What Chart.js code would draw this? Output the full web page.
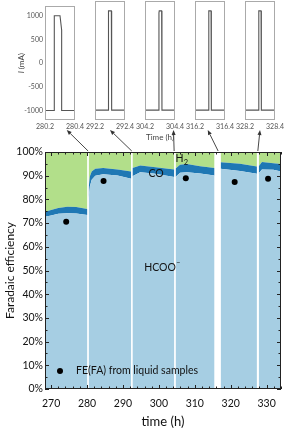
<!DOCTYPE html>
<html><head><meta charset="utf-8">
<script src="https://cdn.jsdelivr.net/npm/chart.js@4.4.1/dist/chart.umd.min.js"></script>
<style>
html,body{margin:0;padding:0;background:#fff;width:286px;height:430px;overflow:hidden}
canvas{position:absolute;top:0}
</style></head><body>
<canvas id="main" width="286" height="430" style="left:0"></canvas>
<canvas id="p0"></canvas><canvas id="p1"></canvas><canvas id="p2"></canvas><canvas id="p3"></canvas><canvas id="p4"></canvas>
<script>
// ---------- main chart data (time in h, Faradaic efficiency in %) ----------
const time   = [268.3,270,272,274.5,277,280.1, 280.3, 280.45,280.8,281.3,282.3,284.5,288.5,292.3, 292.45, 292.65,294.8,298.5,304.3, 304.45, 304.65,305.9,307.8,311.5,315.5, 316.3, 317.2,322.6,327.3, 327.55, 327.8,328.7,331.9,334];
const feHCOO = [72.7,73.2,73.9,74.2,74.1,73.4, null, 80.5,85.5,88.3,90.0,90.6,90.1,88.7, null, 89.8,91.5,90.9,89.4, null, 89.4,91.2,91.5,90.9,90.1, null, 92.9,92.0,90.8, null, 91.0,92.6,92.5,91.8];
const feCO   = [2.1,2.3,2.5,2.7,2.7,2.6, null, 4.5,4.3,3.5,2.9,2.6,2.5,3.1, null, 3.5,2.8,2.8,3.2, null, 3.6,3.4,3.4,3.1,3.1, null, 2.8,3.0,3.1, null, 3.0,3.2,2.8,3.1];
const feH2   = [25.2,24.5,23.6,23.1,23.2,24.0, null, 15.0,10.2,8.2,7.1,6.8,7.4,8.2, null, 6.7,5.7,6.3,7.4, null, 7.0,5.4,5.1,6.0,6.8, null, 4.3,5.0,6.1, null, 6.0,4.2,4.7,5.1];
const sampleTime = [274.2,284.6,307.5,321.1,330.4];
const sampleFE   = [70.6,87.8,88.9,87.3,88.7];
const xTickLabels = [270,280,290,300,310,320,330];
const yTickLabels = [0,10,20,30,40,50,60,70,80,90,100];

// ---------- inset data (time in h, current in mA) ----------
const insetWindows = [[280.2,280.4],[292.2,292.4],[304.2,304.4],[316.2,316.4],[328.2,328.4]];
const pulse1Time = [280.2,280.262,280.262,280.300,280.311,280.311,280.4];
const pulse1Cur  = [-1000,-1000,1000,1000,700,-1000,-1000];
const pulse2Time = [292.2,292.289,292.289,292.291,292.309,292.311,292.311,292.4];
const pulse2Cur  = [-1000,-1000,960,1000,1000,960,-1000,-1000];
const pulse3Time = [304.2,304.293,304.293,304.295,304.311,304.313,304.313,304.4];
const pulse3Cur  = [-1000,-1000,960,1000,1000,960,-1000,-1000];
const pulse4Time = [316.2,316.291,316.291,316.293,316.307,316.309,316.309,316.4];
const pulse4Cur  = [-1000,-1000,960,1000,1000,960,-1000,-1000];
const pulse5Time = [328.2,328.291,328.291,328.293,328.307,328.309,328.309,328.4];
const pulse5Cur  = [-1000,-1000,960,1000,1000,960,-1000,-1000];
const currentTicks = [-1000,-500,0,500,1000];
// arrows: main-chart time -> inset time
const arrowFrom = [280.3,292.45,304.25,316.5,327.55];
const arrowTo   = [280.345,292.3,304.39,316.285,328.3];

const FONT = 'Lato, "Liberation Sans", sans-serif';
Chart.defaults.font.family = FONT;
Chart.defaults.color = '#111';
Chart.defaults.animation = false;
Chart.defaults.events = [];
Chart.defaults.plugins.legend.display = false;
Chart.defaults.plugins.tooltip.enabled = false;

// ---------- insets ----------
const insetFrame = {
  id:'insetFrame',
  afterDraw(chart){
    const {ctx, chartArea:a} = chart;
    ctx.save();
    ctx.strokeStyle = '#aaa'; ctx.lineWidth = 1;
    ctx.strokeRect(Math.round(a.left)+0.5, Math.round(a.top)+0.5, Math.round(a.right-a.left)-1, Math.round(a.bottom-a.top)-1);
    if (chart.$first) {
      ctx.fillStyle = '#444';
      ctx.translate(21.5, (a.top+a.bottom)/2);
      ctx.rotate(-Math.PI/2);
      ctx.textBaseline = 'middle';
      ctx.font = `italic 8px ${FONT}`;
      const w1 = ctx.measureText('I ').width;
      ctx.font = `8px ${FONT}`;
      const w2 = ctx.measureText('(mA)').width;
      const sx = -(w1+w2)/2;
      ctx.font = `italic 8px ${FONT}`; ctx.fillText('I ', sx, 0);
      ctx.font = `8px ${FONT}`; ctx.fillText('(mA)', sx+w1, 0);
    }
    ctx.restore();
  }
};
const pulses = [[pulse1Time,pulse1Cur],[pulse2Time,pulse2Cur],[pulse3Time,pulse3Cur],[pulse4Time,pulse4Cur],[pulse5Time,pulse5Cur]];
const insetCharts = pulses.map((p,i)=>{
  const cv = document.getElementById('p'+i);
  const first = i===0;
  const left = first ? 0 : 33 + 50*i;
  cv.style.left = left+'px';
  cv.width = first ? 87 : 54; cv.height = 145;
  const [w0,w1] = insetWindows[i];
  const ch = new Chart(cv, {
    type:'line',
    data:{datasets:[{data:p[0].map((t,k)=>({x:t,y:p[1][k]})), borderColor:'#555', borderWidth:1.1, pointRadius:0, fill:false, tension:0}]},
    options:{responsive:false,
      layout:{padding:{top:1,left:first?0:12,right:12,bottom:0}},
      scales:{
        x:{type:'linear',min:w0,max:w1,
           afterBuildTicks:s=>{s.ticks=[{value:w0},{value:w1}];},
           afterFit:s=>{s.height=25;},
           grid:{display:false,drawTicks:false}, border:{display:false},
           ticks:{font:{size:7},color:'#555',padding:3,maxRotation:0,autoSkip:false,callback:v=>Number(v).toFixed(1)},
           title:{display:i===2,text:'Time (h)',font:{size:8},color:'#444',padding:{top:0,bottom:3}}},
        y:{display:first,min:-1200,max:1200,
           afterBuildTicks:s=>{s.ticks=currentTicks.map(v=>({value:v}));},
           afterFit:s=>{ if(first) s.width=45; },
           grid:{display:false,drawTicks:false}, border:{display:false},
           ticks:{font:{size:7},color:'#555',padding:2,autoSkip:false,callback:v=>String(v)},
           title:{display:false}}
      }},
    plugins:[insetFrame]
  });
  ch.$first = first; ch.$left = left;
  ch.draw();
  return ch;
});

// ---------- main chart ----------
const pts = arr => time.map((t,k)=>({x:t, y:arr[k]}));
const cumHCOO = feHCOO;
const cumCO = feHCOO.map((v,k)=> v===null?null: v+feCO[k]);
const cumH2 = feHCOO.map((v,k)=> v===null?null: v+feCO[k]+feH2[k]);

const mainDeco = {
  id:'mainDeco',
  afterDatasetsDraw(chart){
    const {ctx, chartArea:a, scales:{x,y}} = chart;
    ctx.save();
    ctx.fillStyle = '#111';
    ctx.textBaseline = 'middle'; ctx.textAlign = 'left';
    // H2 label
    let px = x.getPixelForValue(304.6), py = y.getPixelForValue(97.3);
    ctx.font = `10.5px ${FONT}`; ctx.fillText('H', px, py);
    let w = ctx.measureText('H').width;
    ctx.font = `7.5px ${FONT}`; ctx.fillText('2', px+w+0.3, py+4);
    // CO label
    ctx.font = `10.5px ${FONT}`;
    ctx.fillText('CO', x.getPixelForValue(297.1), y.getPixelForValue(90.8));
    // HCOO- label
    px = x.getPixelForValue(295.9); py = y.getPixelForValue(51.4);
    ctx.fillText('HCOO', px, py);
    w = ctx.measureText('HCOO').width;
    ctx.font = `7px ${FONT}`; ctx.fillText('\u2212', px+w+0.3, py-4);
    // legend
    const ds = chart.data.datasets[3];
    ctx.beginPath(); ctx.arc(a.left+15, a.bottom-18, 3, 0, Math.PI*2); ctx.fillStyle = ds.pointBackgroundColor; ctx.fill();
    ctx.fillStyle = '#111'; ctx.font = `10.5px ${FONT}`;
    ctx.fillText(ds.label, a.left+31, a.bottom-18);
    // frame
    ctx.strokeStyle = '#222'; ctx.lineWidth = 1;
    ctx.strokeRect(a.left+0.5, a.top+0.5, a.right-a.left-1, a.bottom-a.top-1);
    ctx.beginPath();
    for (let v=270; v<=334; v+=2){
      const p = Math.round(x.getPixelForValue(v))+0.5, len = v%10===0?4:2.5;
      ctx.moveTo(p,a.bottom); ctx.lineTo(p,a.bottom-len);
      ctx.moveTo(p,a.top); ctx.lineTo(p,a.top+len);
    }
    for (let v=0; v<=100; v+=5){
      const p = Math.round(y.getPixelForValue(v))+0.5, len = v%10===0?4:2.5;
      ctx.moveTo(a.left,p); ctx.lineTo(a.left+len,p);
      ctx.moveTo(a.right,p); ctx.lineTo(a.right-len,p);
    }
    ctx.stroke();
    // arrows to insets
    ctx.strokeStyle = '#333'; ctx.fillStyle = '#333'; ctx.lineWidth = 0.9;
    arrowFrom.forEach((t,i)=>{
      const ic = insetCharts[i];
      const x0 = x.getPixelForValue(t), y0 = a.top-1;
      const x1 = ic.$left + ic.scales.x.getPixelForValue(arrowTo[i]), y1 = ic.chartArea.bottom + 10;
      const ang = Math.atan2(y1-y0, x1-x0), L = 5, H = 2;
      const bx = x1 - L*Math.cos(ang), by = y1 - L*Math.sin(ang);
      ctx.beginPath(); ctx.moveTo(x0,y0); ctx.lineTo(bx,by); ctx.stroke();
      ctx.beginPath(); ctx.moveTo(x1,y1);
      ctx.lineTo(bx + H*Math.sin(ang), by - H*Math.cos(ang));
      ctx.lineTo(bx - H*Math.sin(ang), by + H*Math.cos(ang));
      ctx.closePath(); ctx.fill();
    });
    ctx.restore();
  }
};

const area = (label, arr, fill, color) => ({label, data:pts(arr), fill, backgroundColor:color, borderColor:'rgba(0,0,0,0)', borderWidth:0, pointRadius:0, spanGaps:false, tension:0, order:2});

new Chart(document.getElementById('main'), {
  type:'line',
  data:{datasets:[
    area('HCOO\u207B', cumHCOO, 'origin', '#a6cee3'),
    area('CO', cumCO, '-1', '#1f78b4'),
    area('H\u2082', cumH2, '-1', '#b2df8a'),
    {label:'FE(FA) from liquid samples', data:sampleTime.map((t,k)=>({x:t,y:sampleFE[k]})), showLine:false, pointRadius:3, pointBackgroundColor:'#000', pointBorderWidth:0, order:0}
  ]},
  options:{responsive:false,
    layout:{padding:{top:152,right:5,left:0,bottom:0}},
    scales:{
      x:{type:'linear',min:268.3,max:334,
         afterBuildTicks:s=>{s.ticks=xTickLabels.map(v=>({value:v}));},
         afterFit:s=>{s.height=41;},
         grid:{display:false,drawTicks:false}, border:{display:false},
         ticks:{font:{size:10.5},color:'#111',padding:8,maxRotation:0,autoSkip:false},
         title:{display:true,text:'time (h)',font:{size:13},color:'#111',padding:{top:0,bottom:0}}},
      y:{min:0,max:100,
         afterBuildTicks:s=>{s.ticks=yTickLabels.map(v=>({value:v}));},
         afterFit:s=>{s.width=45;},
         grid:{display:false,drawTicks:false}, border:{display:false},
         ticks:{font:{size:10.5},color:'#111',padding:2,autoSkip:false,callback:v=>v+'%'},
         title:{display:true,text:'Faradaic efficiency',font:{size:12},color:'#111',padding:{top:3,bottom:0}}}
    }},
  plugins:[mainDeco]
});
</script>
</body></html>
